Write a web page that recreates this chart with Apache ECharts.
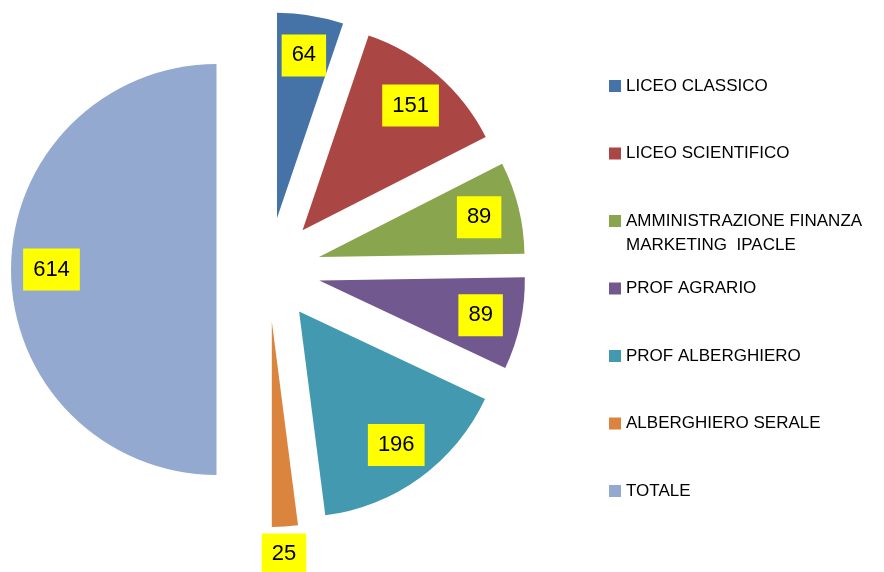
<!DOCTYPE html>
<html>
<head>
<meta charset="utf-8">
<script src="https://cdn.jsdelivr.net/npm/echarts@6/dist/echarts.min.js"></script>
<style>
  html, body { margin: 0; padding: 0; background: #fff; }
  #chart { width: 884px; height: 572px; }
</style>
</head>
<body>
<div id="chart"></div>
<script>
const categories = [
  'LICEO CLASSICO',
  'LICEO SCIENTIFICO',
  'AMMINISTRAZIONE FINANZA\nMARKETING  IPACLE',
  'PROF AGRARIO',
  'PROF ALBERGHIERO',
  'ALBERGHIERO SERALE',
  'TOTALE'
]
const values = [64, 151, 89, 89, 196, 25, 614]
// slice whose label sits outside the pie
const outsideName = 'ALBERGHIERO SERALE'

const palette = ['#4572A7', '#AA4643', '#89A54E', '#71588F', '#4299B0', '#DB843D', '#94A9D0']
const FONT = 'Liberation Sans'

const center = [268.5, 269.5]
const R = 205.5
const explode = 52
const LINE = 24

const pieData = categories.map((name, i) => ({ name, value: values[i], selected: true }))

const labelData = categories.map((name, i) => {
  const item = { name, value: values[i], selected: true }
  if (name === outsideName) {
    item.label = { position: 'outside', distanceToLabelLine: -25 }
    item.labelLine = { show: false, length: 28, length2: 0 }
  }
  return item
})

const chart = echarts.init(document.getElementById('chart'), null, { renderer: 'canvas' })
chart.setOption({
  animation: false,
  color: palette,
  legend: {
    orient: 'vertical',
    left: 609,
    top: 50,
    padding: 0,
    icon: 'rect',
    itemWidth: 12,
    itemHeight: 12,
    itemGap: 67.5 - 3 * LINE,
    selectedMode: false,
    data: categories,
    // pad every entry to three lines: icon sits on the first text line and
    // all entries keep the same height (Excel style)
    formatter: name => '\n' + name + (name.indexOf('\n') < 0 ? '\n' : ''),
    textStyle: {
      fontFamily: FONT,
      fontSize: 17,
      color: '#000',
      lineHeight: LINE
    }
  },
  series: [
    {
      type: 'pie',
      center: center,
      radius: R,
      startAngle: 90,
      clockwise: true,
      selectedMode: 'multiple',
      selectedOffset: explode,
      avoidLabelOverlap: false,
      label: { show: false },
      labelLine: { show: false },
      itemStyle: { borderWidth: 0 },
      emphasis: { scale: false },
      data: pieData
    },
    {
      // transparent ring that only carries the value labels
      type: 'pie',
      center: center,
      radius: [118.5, R],
      startAngle: 90,
      clockwise: true,
      selectedMode: 'multiple',
      selectedOffset: explode,
      avoidLabelOverlap: false,
      silent: true,
      z: 3,
      itemStyle: { color: 'rgba(0,0,0,0)', borderWidth: 0 },
      label: {
        show: true,
        position: 'inside',
        formatter: '{c}',
        fontFamily: FONT,
        fontSize: 22,
        color: '#000',
        backgroundColor: '#FFFF00',
        padding: [10, 10]
      },
      labelLine: { show: false },
      emphasis: { scale: false },
      data: labelData
    }
  ]
})
</script>
</body>
</html>
